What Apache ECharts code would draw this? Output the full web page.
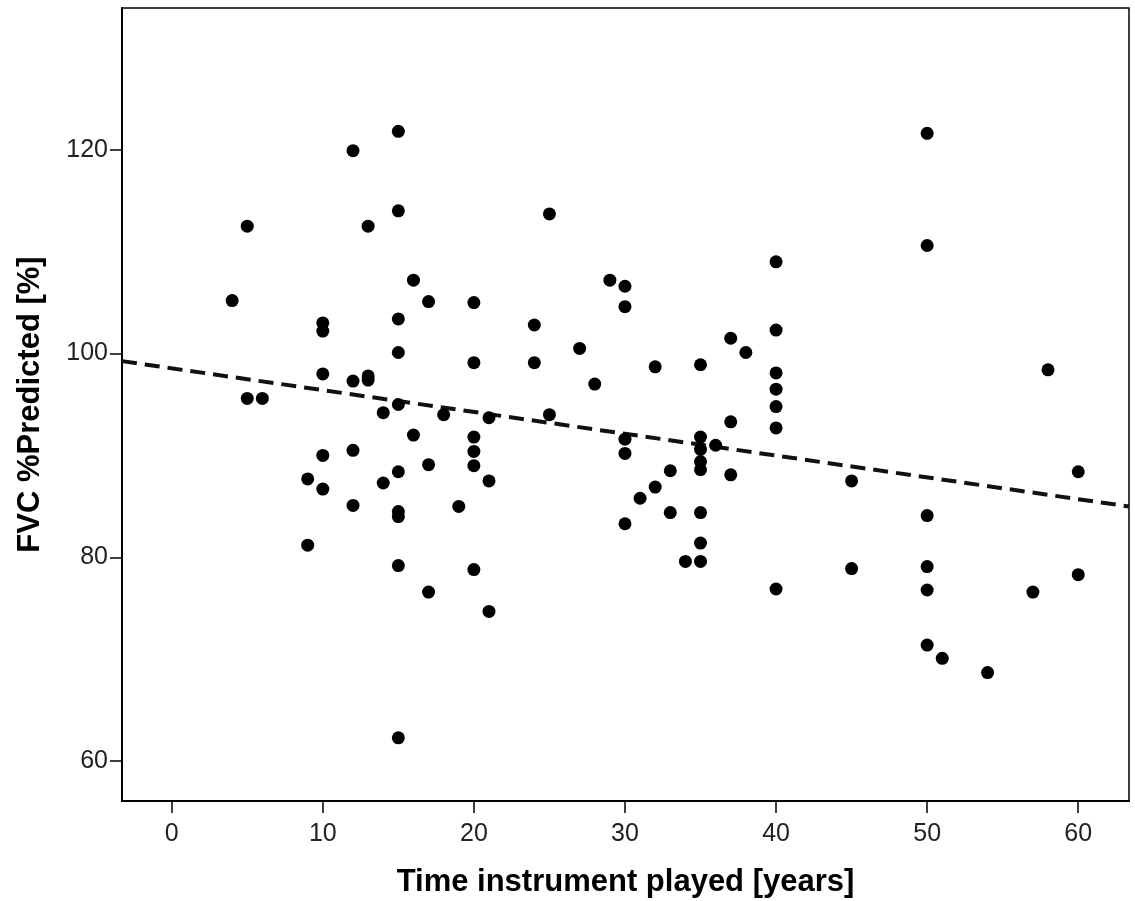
<!DOCTYPE html>
<html>
<head>
<meta charset="utf-8">
<title>FVC vs time instrument played</title>
<script src="https://cdn.jsdelivr.net/npm/echarts@6.0.0/dist/echarts.min.js"></script>
<style>
  html, body { margin: 0; padding: 0; background: #fff; }
  #chart { width: 1135px; height: 901px; }
</style>
</head>
<body>
<div id="chart"></div>
<script>
// years played (x) and FVC %predicted (y)
const years = [
  4, 5, 5, 6, 9, 9,
  10, 10, 10, 10, 10,
  12, 12, 12, 12, 13, 13, 13, 14, 14,
  15, 15, 15, 15, 15, 15, 15, 15, 15, 15,
  16, 16, 17, 17, 17, 18, 19,
  20, 20, 20, 20, 20, 20, 21, 21, 21,
  24, 24, 25, 25, 27, 28, 29,
  30, 30, 30, 30, 30, 31, 32, 32, 33, 33, 34,
  35, 35, 35, 35, 35, 35, 35, 35, 36, 37, 37, 37, 38,
  40, 40, 40, 40, 40, 40, 40, 45, 45,
  50, 50, 50, 50, 50, 50, 51, 54, 57, 58, 60, 60
];
const fvcPct = [
  105.2, 112.5, 95.6, 95.6, 87.7, 81.2,
  103.0, 102.2, 98.0, 90.0, 86.7,
  119.9, 97.3, 90.5, 85.1, 112.5, 97.8, 97.4, 94.2, 87.3,
  121.8, 114.0, 103.4, 100.1, 95.0, 88.4, 84.5, 84.0, 79.2, 62.3,
  107.2, 92.0, 105.1, 89.1, 76.6, 94.0, 85.0,
  105.0, 99.1, 91.8, 90.4, 89.0, 78.8, 93.7, 87.5, 74.7,
  102.8, 99.1, 113.7, 94.0, 100.5, 97.0, 107.2,
  106.6, 104.6, 91.6, 90.2, 83.3, 85.8, 98.7, 86.9, 88.5, 84.4, 79.6,
  98.9, 91.8, 90.6, 89.4, 88.6, 84.4, 81.4, 79.6, 91.0, 101.5, 93.3, 88.1, 100.1,
  109.0, 102.3, 98.1, 96.5, 94.8, 92.7, 76.9, 87.5, 78.9,
  121.6, 110.6, 84.1, 79.1, 76.8, 71.4, 70.1, 68.7, 76.6, 98.4, 88.4, 78.3
];

const xTicks = [0, 10, 20, 30, 40, 50, 60];
const yTicks = [60, 80, 100, 120];
const xRange = [-3.29, 63.36];
const yRange = [56.1, 133.9];

// fit line (linear, as shown in the figure)
const fitIntercept = 98.55;
const fitSlope = -0.214;

const points = years.map((x, i) => [x, fvcPct[i]]);
const fitLine = xRange.map(x => [x, fitIntercept + fitSlope * x]);

const chart = echarts.init(document.getElementById('chart'));
const tickFont = { fontFamily: 'Liberation Sans, Arial, sans-serif', fontSize: 25, color: '#222' };
const titleFont = { fontFamily: 'Liberation Sans, Arial, sans-serif', fontSize: 31, fontWeight: 'bold', color: '#000' };

chart.setOption({
  animation: false,
  backgroundColor: '#fff',
  grid: {
    left: 122, top: 8, right: 6, bottom: 100,
    outerBoundsMode: 'none',
    show: true, borderColor: '#000', borderWidth: 1.5
  },
  xAxis: {
    type: 'value',
    min: xRange[0], max: xRange[1],
    name: 'Time instrument played [years]',
    nameLocation: 'middle',
    nameGap: 66,
    nameTextStyle: titleFont,
    axisLine: { show: true, onZero: false, lineStyle: { color: '#000', width: 2 } },
    axisTick: { show: true, length: 12, customValues: xTicks, lineStyle: { color: '#000', width: 1.5 } },
    axisLabel: Object.assign({ margin: 21, customValues: xTicks }, tickFont),
    splitLine: { show: false }
  },
  yAxis: {
    type: 'value',
    min: yRange[0], max: yRange[1],
    name: 'FVC %Predicted [%]',
    nameLocation: 'middle',
    nameGap: 76,
    nameTextStyle: titleFont,
    axisLine: { show: true, onZero: false, lineStyle: { color: '#000', width: 2 } },
    axisTick: { show: true, length: 12, customValues: yTicks, lineStyle: { color: '#000', width: 1.5 } },
    axisLabel: Object.assign({ margin: 14, customValues: yTicks }, tickFont),
    splitLine: { show: false }
  },
  series: [
    {
      type: 'line',
      data: fitLine,
      symbol: 'none',
      lineStyle: { color: '#111', width: 4, type: [15, 8] },
      z: 1
    },
    {
      type: 'scatter',
      data: points,
      symbol: 'circle',
      symbolSize: 13,
      itemStyle: { color: '#000', opacity: 1 },
      z: 2
    }
  ]
});

window.onresize = function () {
  chart.resize();
};
</script>
</body>
</html>
